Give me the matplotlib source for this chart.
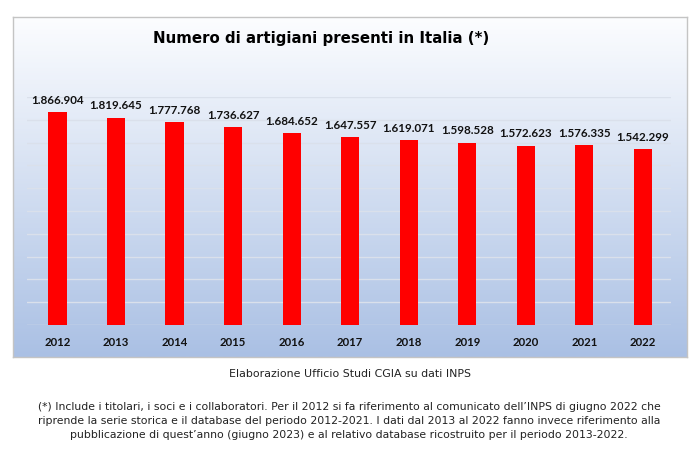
import matplotlib
matplotlib.use("Agg")
import matplotlib.pyplot as plt
import numpy as np

years = ["2012", "2013", "2014", "2015", "2016", "2017", "2018", "2019", "2020", "2021", "2022"]
artigiani = [1866904, 1819645, 1777768, 1736627, 1684652, 1647557, 1619071, 1598528, 1572623, 1576335, 1542299]
title = "Numero di artigiani presenti in Italia (*)"
source = "Elaborazione Ufficio Studi CGIA su dati INPS"
footnote = ("(*) Include i titolari, i soci e i collaboratori. Per il 2012 si fa riferimento al comunicato dell\u2019INPS di giugno 2022 che\n"
            "riprende la serie storica e il database del periodo 2012-2021. I dati dal 2013 al 2022 fanno invece riferimento alla\n"
            "pubblicazione di quest\u2019anno (giugno 2023) e al relativo database ricostruito per il periodo 2013-2022.")

W, H = 696, 451
fig = plt.figure(figsize=(W / 100, H / 100), dpi=100)
fig.patch.set_facecolor("white")

# gradient panel
px0, py0, px1, py1 = 13, 17, 687, 357
bg = fig.add_axes([px0 / W, 1 - py1 / H, (px1 - px0) / W, (py1 - py0) / H])
top = np.array([252, 253, 255]) / 255
bot = np.array([170, 192, 228]) / 255
t = np.linspace(0, 1, 256)[:, None]
grad = top[None, :] * (1 - t) + bot[None, :] * t
bg.imshow(grad[:, None, :], aspect="auto", extent=[0, 1, 0, 1], origin="upper")
bg.set_xlim(0, 1)
bg.set_ylim(0, 1)
bg.set_xticks([])
bg.set_yticks([])
for s in bg.spines.values():
    s.set_color("#c4c4c4")
    s.set_linewidth(1.0)

# main axes
ax0, ax1, ay_base, ay_top = 27, 671, 325, 97
ax = fig.add_axes([ax0 / W, 1 - ay_base / H, (ax1 - ax0) / W, (ay_base - ay_top) / H])
ax.patch.set_alpha(0)
x = np.arange(len(years))
ax.bar(x, artigiani, width=0.31, color="#ff0000", zorder=3)
ax.set_ylim(0, 2000000)
ax.set_xlim(-0.52, 10.48)
ax.set_yticks(np.arange(0, 2000001, 200000))
ax.yaxis.grid(True, color="#dae0eb", linewidth=1.0, zorder=0)
ax.set_axisbelow(True)
ax.tick_params(axis="y", length=0, labelleft=False)
ax.tick_params(axis="x", length=0, pad=9)
ax.set_xticks(x)
ax.set_xticklabels(years, fontfamily="Lato", fontweight="bold", fontsize=8.2, color="#111111")
for s in ax.spines.values():
    s.set_visible(False)

for xi, v in zip(x, artigiani):
    lab = f"{v:,}".replace(",", ".")
    ax.annotate(lab, (xi, v), xytext=(0, 8.5), textcoords="offset points",
                ha="center", va="center", fontfamily="Lato", fontweight="bold",
                fontsize=8.4, color="#111111")

fig.text(321 / W, 1 - 38 / H, title, ha="center", va="center",
         fontfamily="DejaVu Sans", fontweight="bold", fontsize=10.8, color="black")
fig.text(350 / W, 1 - 374 / H, source, ha="center", va="center",
         fontfamily="DejaVu Sans", fontsize=7.9, color="#222222")
fig.text(349 / W, 1 - 421 / H, footnote, ha="center", va="center",
         fontfamily="DejaVu Sans", fontsize=7.8, color="#222222", linespacing=1.5,
         multialignment="center")

fig.savefig("out.png", dpi=100)
